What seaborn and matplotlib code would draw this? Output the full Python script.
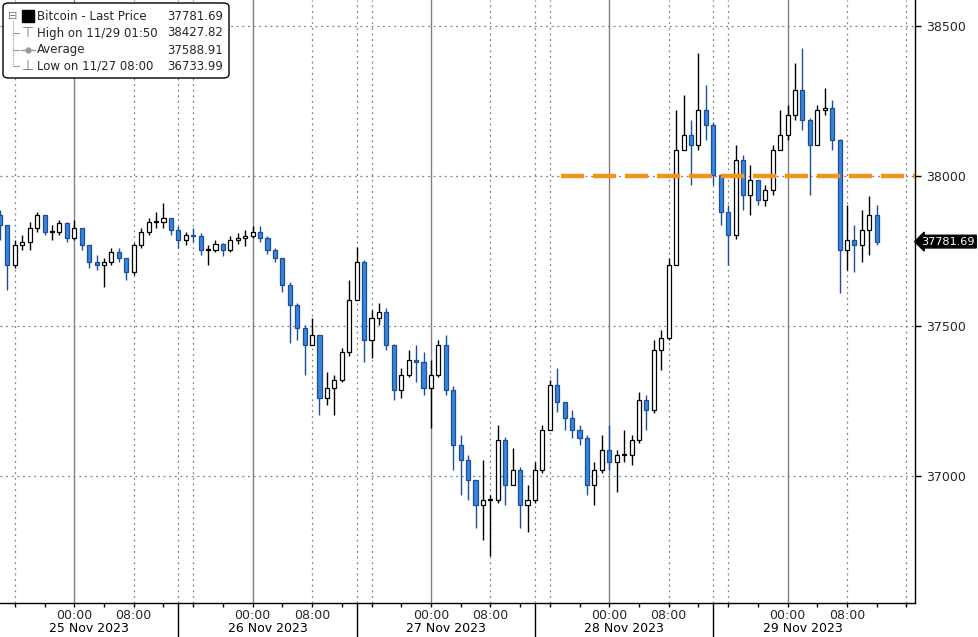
import numpy as np
import pandas as pd
import matplotlib
matplotlib.use("Agg")
import matplotlib.pyplot as plt
import matplotlib.transforms as mtransforms
from matplotlib.patches import FancyBboxPatch
import seaborn as sns

# hourly bitcoin candles (open = previous close)
start = "2023-11-24 14:00"
first_open = 37870
closes = [37837, 37703, 37770, 37780, 37827, 37870, 37813, 37813, 37843, 37793,
          37827, 37770, 37713, 37703, 37713, 37747, 37727, 37680, 37770, 37813,
          37847, 37847, 37860, 37820, 37787, 37803, 37800, 37753, 37753, 37773,
          37753, 37787, 37793, 37800, 37813, 37793, 37753, 37727, 37637, 37570,
          37493, 37437, 37470, 37260, 37293, 37320, 37413, 37587, 37713, 37453,
          37527, 37547, 37437, 37287, 37337, 37387, 37380, 37293, 37337, 37437,
          37287, 37103, 37053, 36987, 36903, 36920, 36920, 37120, 36970, 37020,
          36903, 36920, 37020, 37153, 37303, 37247, 37193, 37153, 37127, 36970,
          37020, 37087, 37047, 37070, 37070, 37120, 37253, 37220, 37420, 37460,
          37703, 38087, 38137, 38103, 38220, 38170, 38003, 37880, 37803, 38053,
          37937, 37987, 37920, 37953, 38087, 38137, 38203, 38287, 38187, 38103,
          38220, 38227, 38120, 37753, 37787, 37770, 37820, 37870, 37781.69]
highs = [37887, 37837, 37787, 37803, 37847, 37880, 37870, 37837, 37853, 37847,
         37853, 37827, 37770, 37737, 37727, 37760, 37760, 37727, 37777, 37827,
         37860, 37880, 37910, 37860, 37833, 37813, 37827, 37810, 37770, 37787,
         37777, 37800, 37810, 37820, 37833, 37833, 37800, 37760, 37727, 37647,
         37577, 37503, 37527, 37470, 37347, 37337, 37427, 37653, 37763, 37720,
         37553, 37577, 37560, 37440, 37360, 37420, 37437, 37413, 37387, 37453,
         37470, 37300, 37137, 37070, 36987, 37053, 36937, 37170, 37130, 37093,
         37030, 36970, 37047, 37170, 37320, 37360, 37247, 37220, 37170, 37137,
         37047, 37137, 37170, 37087, 37153, 37137, 37280, 37270, 37453, 37487,
         37727, 38220, 38270, 38187, 38410, 38303, 38180, 38003, 37903, 38103,
         38070, 38037, 37987, 37970, 38103, 38220, 38237, 38377, 38427.82, 38195,
         38237, 38293, 38253, 38125, 37903, 37837, 37887, 37933, 37903]
lows = [37787, 37620, 37693, 37753, 37753, 37813, 37803, 37787, 37803, 37780,
        37787, 37753, 37693, 37687, 37630, 37703, 37713, 37653, 37670, 37760,
        37803, 37827, 37827, 37803, 37760, 37770, 37780, 37737, 37703, 37747,
        37733, 37747, 37773, 37767, 37793, 37780, 37740, 37713, 37613, 37443,
        37453, 37337, 37437, 37203, 37237, 37203, 37313, 37400, 37587, 37380,
        37393, 37503, 37420, 37253, 37260, 37330, 37313, 37270, 37160, 37330,
        37270, 37020, 36937, 36920, 36827, 36787, 36733.99, 36910, 36903, 36970,
        36827, 36813, 36910, 37010, 37153, 37213, 37153, 37127, 37103, 36937,
        36903, 37010, 37020, 36947, 37047, 37037, 37110, 37153, 37210, 37353,
        37453, 37703, 38087, 37970, 38087, 38120, 37970, 37837, 37703, 37790,
        37887, 37870, 37903, 37900, 37937, 38087, 38120, 38187, 38153, 37937,
        38103, 38203, 38087, 37610, 37687, 37680, 37713, 37737, 37770]

y_ticks = [37000, 37500, 38000, 38500]
day_names = ["25 Nov 2023", "26 Nov 2023", "27 Nov 2023", "28 Nov 2023", "29 Nov 2023"]
level = 38000
level_from = "2023-11-27 17:30"

legend_rows = [("Bitcoin - Last Price", "37781.69"),
               ("High on 11/29 01:50", "38427.82"),
               ("Average", "37588.91"),
               ("Low on 11/27 08:00", "36733.99")]

t0 = pd.Timestamp("2023-11-24")
df = pd.DataFrame({"time": pd.date_range(start, periods=len(closes), freq="h"),
                   "close": closes, "high": highs, "low": lows})
df["open"] = [first_open] + closes[:-1]
df["hour"] = (df["time"] - t0) / pd.Timedelta(hours=1)
df["up"] = df["close"] >= df["open"]

sns.set_theme(style="white")
plt.rcParams["font.family"] = ["DejaVu Sans"]

W, H = 979, 637
fig = plt.figure(figsize=(W / 100, H / 100), dpi=100)
ax = fig.add_axes([0, 34 / H, 915 / W, 603 / H])

x_min = df["hour"].iloc[0]
x_max = x_min + 915 / 7.43
ax.set_xlim(x_min, x_max)
ax.set_ylim(36577, 38587)

# grid: solid at midnight, dotted at 08:00 / 16:00 and at the date separators
dot = (0, (1.5, 3))
for d in range(24, int(x_max) + 1, 24):
    ax.axvline(d, color="#808080", lw=1, zorder=1)
for h in range(16, int(x_max) + 1, 8):
    if h % 24:
        ax.axvline(h, color="#808080", lw=0.9, ls=dot, zorder=1)
seps = list(range(38, int(x_max) - 12, 24))
for h in seps:
    ax.axvline(h, color="#808080", lw=0.9, ls=dot, zorder=1)
for y in y_ticks:
    ax.axhline(y, color="#808080", lw=0.9, ls=dot, zorder=1)

# candles
blue_face, blue_edge = "#3a86dc", "#1b4e9a"
for up, edge, face in [(True, "black", "white"), (False, blue_edge, blue_face)]:
    d = df[df["up"] == up]
    ax.vlines(d["hour"], d["low"], d["high"], color=edge, lw=1, zorder=3)
    body = (d["close"] - d["open"]).abs().clip(lower=4)
    ax.bar(d["hour"], body, bottom=d[["open", "close"]].min(axis=1), width=0.55,
           facecolor=face, edgecolor=edge, lw=0.9, zorder=4)

# orange level line
lvl = pd.DataFrame({"hour": [(pd.Timestamp(level_from) - t0) / pd.Timedelta(hours=1), x_max],
                    "price": [level, level]})
sns.lineplot(data=lvl, x="hour", y="price", ax=ax, color="#f5921e", lw=3.2,
             dashes=False, zorder=5, legend=False)
ax.lines[-1].set_dashes((5.2, 2.0))

# axes styling
for s in ["left", "top"]:
    ax.spines[s].set_visible(False)
for s in ["right", "bottom"]:
    ax.spines[s].set_color("black")
    ax.spines[s].set_linewidth(1)
ax.yaxis.tick_right()
ax.set_yticks(y_ticks)
ax.set_yticklabels([str(v) for v in y_ticks])
ax.tick_params(axis="y", direction="out", length=4, width=1, color="black",
               labelsize=9, pad=4, right=True, left=False)

major = [h for h in range(24, int(x_max) + 1, 8) if h % 24 in (0, 8)]
ax.set_xticks(major)
ax.set_xticklabels(["00:00" if h % 24 == 0 else "08:00" for h in major])
ax.set_xticks(range(16, int(x_max) + 1, 4), minor=True)
ax.tick_params(axis="x", which="both", direction="out", length=3, width=1,
               color="black", labelsize=9, pad=1, bottom=True)
ax.set_xlabel("")
ax.set_ylabel("")

trans = mtransforms.blended_transform_factory(ax.transData, ax.transAxes)
for i, name in enumerate(day_names):
    ax.text(24 * (i + 1) + 2, -0.043, name, transform=trans, ha="center", va="center",
            fontsize=9, color="black")
for h in seps:
    ax.plot([h, h], [0, -34 / 603], transform=trans, color="black", lw=1, clip_on=False)

# last price tag
ty = mtransforms.blended_transform_factory(ax.transAxes, ax.transData)
ax.text(1.007, closes[-1], f"{closes[-1]:.2f}", transform=ty, ha="left", va="center",
        fontsize=8.1, color="white",
        bbox=dict(boxstyle="larrow,pad=0.12", fc="black", ec="black"))


# legend box drawn in pixel positions
def px(x, y):
    return x / W, 1 - y / H


box = FancyBboxPatch(px(3, 78), 226 / W, 75 / H, boxstyle="round,pad=0,rounding_size=0.006",
                     transform=fig.transFigure, fc="white", ec="black", lw=1, zorder=10)
fig.add_artist(box)
row_y = [16, 33, 50, 66]
for (name, val), y in zip(legend_rows, row_y):
    fig.text(*px(37, y), name, ha="left", va="center", fontsize=8.5, zorder=11)
    fig.text(*px(223, y), val, ha="right", va="center", fontsize=8.5, zorder=11)
fig.text(*px(13, row_y[0]), "\u229f", ha="center", va="center", fontsize=8,
         color="#777777", zorder=11)
fig.add_artist(plt.Line2D([px(13, 0)[0]] * 2, [px(0, 21)[1], px(0, 66)[1]],
                          transform=fig.transFigure, color="#999999", lw=0.8,
                          ls=(0, (1, 1)), zorder=11))
for y in row_y[1:]:
    fig.add_artist(plt.Line2D([px(13, 0)[0], px(19, 0)[0]], [px(0, y)[1]] * 2,
                              transform=fig.transFigure, color="#999999", lw=0.8, zorder=11))
fig.add_artist(plt.Line2D([px(28, 0)[0]], [px(0, row_y[0])[1]], transform=fig.transFigure,
                          marker="s", ms=8, color="black", ls="none", zorder=11))
fig.text(*px(28, row_y[1]), "\u22a4", ha="center", va="center", fontsize=10,
         color="#777777", zorder=11)
fig.add_artist(plt.Line2D([px(21, 0)[0], px(35, 0)[0]], [px(0, row_y[2])[1]] * 2,
                          transform=fig.transFigure, color="#999999", lw=1, zorder=11))
fig.add_artist(plt.Line2D([px(28, 0)[0]], [px(0, row_y[2])[1]], transform=fig.transFigure,
                          marker="o", ms=3.5, color="#999999", ls="none", zorder=11))
fig.text(*px(28, row_y[3]), "\u22a5", ha="center", va="center", fontsize=10,
         color="#777777", zorder=11)

fig.savefig("out.png", dpi=100)
